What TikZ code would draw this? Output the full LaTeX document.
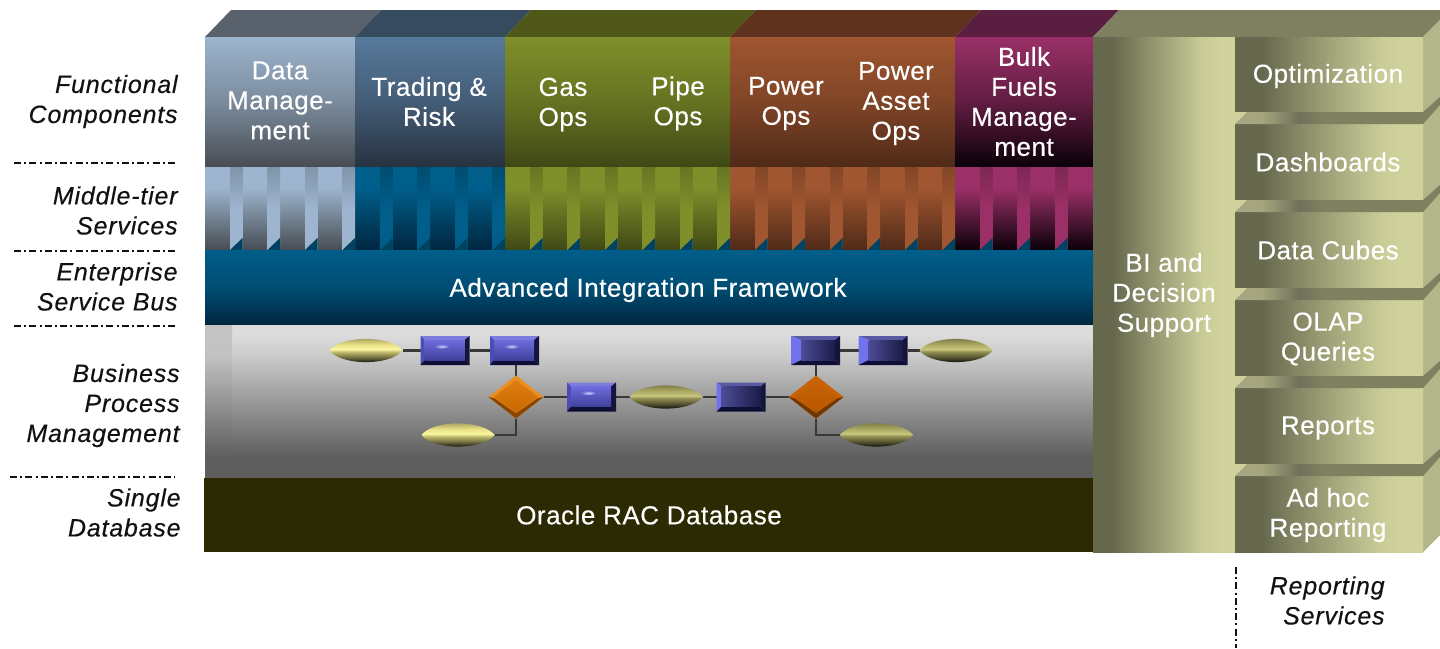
\documentclass[tikz,border=0pt]{standalone}
\usepackage{fontspec}
\setmainfont{Liberation Sans}
\newfontfamily\whitefam[LetterSpace=2,FakeBold=0.35]{Liberation Sans}
\newfontfamily\labelfam[LetterSpace=3.2,FakeBold=0.35]{Liberation Sans}
\usetikzlibrary{shapes.geometric,calc}
% ---- colours
\definecolor{labelink}{HTML}{111111}
\definecolor{oracle}{HTML}{2C2A02}
\definecolor{dataT}{HTML}{9DB5CE}\definecolor{dataB}{HTML}{474C52}\definecolor{dataF}{HTML}{59626C}
\definecolor{tradT}{HTML}{57799B}\definecolor{tradB}{HTML}{27323F}\definecolor{tradF}{HTML}{374B5E}
\definecolor{tierT}{HTML}{005E8A}\definecolor{tierB}{HTML}{00263F}
\definecolor{gasT}{HTML}{7F8F2A}\definecolor{gasB}{HTML}{3F4815}\definecolor{gasF}{HTML}{4F5818}
\definecolor{powT}{HTML}{A05630}\definecolor{powB}{HTML}{4F2A18}\definecolor{powF}{HTML}{5E321D}
\definecolor{bulkT}{HTML}{9A3067}\definecolor{bulkB}{HTML}{0A0008}\definecolor{bulkF}{HTML}{5A1F40}
\definecolor{biL}{HTML}{66684E}\definecolor{biR}{HTML}{CFD29B}\definecolor{biF}{HTML}{7F8060}\definecolor{biS}{HTML}{B3B689}
\definecolor{lensL}{HTML}{E6DF84}\definecolor{lensH}{HTML}{FBF6A2}
\definecolor{lensD}{HTML}{ABA862}\definecolor{lensDH}{HTML}{C9C67E}
\definecolor{bpmT}{HTML}{DCDCDC}\definecolor{bpmB}{HTML}{5E5E5E}
\definecolor{gapA}{HTML}{A5A67F}\definecolor{gapB}{HTML}{70715A}
\definecolor{blueTop}{HTML}{7C7CDC}\definecolor{blueLeft}{HTML}{4C4CB4}\definecolor{blueDark}{HTML}{14143C}\definecolor{blueBot}{HTML}{0F0F35}
\definecolor{blueA}{HTML}{6C6CDC}\definecolor{blueB}{HTML}{40409C}
\definecolor{rblueTop}{HTML}{5A5AA4}\definecolor{rblueLeft}{HTML}{7272EE}
\definecolor{rblueA}{HTML}{4C4C98}\definecolor{rblueB}{HTML}{1C1C48}
\definecolor{gateEdgeA}{HTML}{EA8E22}\definecolor{gateEdgeB}{HTML}{E07E10}\definecolor{gateEdgeC}{HTML}{C86800}\definecolor{gateDarkA}{HTML}{8A4500}
\definecolor{gateEdgeD}{HTML}{C86406}\definecolor{gateEdgeE}{HTML}{B85600}\definecolor{gateDarkB}{HTML}{6E3800}
% ---- shadings (TikZ maps a path's box onto the 25bp..75bp range)
\pgfdeclarehorizontalshading{bipanel}{100bp}{color(0bp)=(biL);color(32bp)=(biL);color(50bp)=(biR!55!biL);color(64bp)=(biR!95!biL);color(70bp)=(biR);color(100bp)=(biR)}
\pgfdeclarehorizontalshading{gapface}{100bp}{color(0bp)=(gapA);color(32bp)=(gapA);color(42bp)=(gapB);color(48bp)=(biF);color(100bp)=(biF)}
\pgfdeclareverticalshading{lensyellow}{100bp}{color(0bp)=(lensL!10!black);color(31bp)=(lensL!10!black);color(38bp)=(lensL!45!black);color(48bp)=(lensL!85!black);color(52bp)=(lensH);color(60bp)=(lensL);color(69bp)=(lensL!75!black);color(100bp)=(lensL!75!black)}
\pgfdeclareverticalshading{lensolive}{100bp}{color(0bp)=(lensD!10!black);color(31bp)=(lensD!10!black);color(38bp)=(lensD!45!black);color(48bp)=(lensD!85!black);color(52bp)=(lensDH);color(60bp)=(lensD);color(69bp)=(lensD!75!black);color(100bp)=(lensD!75!black)}
\pgfdeclareverticalshading{bpmback}{100bp}{color(0bp)=(bpmB);color(32bp)=(bpmB);color(65bp)=(bpmT!92!black);color(72bp)=(bpmT);color(100bp)=(bpmT)}
\pgfdeclareverticalshading{bpmband}{100bp}{color(0bp)=(bpmB);color(32bp)=(bpmB);color(65bp)=(bpmT!88!black);color(100bp)=(bpmT!91!black)}
\tikzset{
  lay/.style={inner sep=0pt,outer sep=0pt,minimum size=0pt},
  whitetext/.style={text=white,align=center,inner sep=0pt,yshift=0.5pt,font=\whitefam\fontsize{13}{15}\selectfont},
  sidelabel/.style={text=labelink,align=right,anchor=east,inner sep=0pt,yshift=0.25pt,font=\labelfam\fontsize{12.5}{15}\selectfont\itshape},
  sep/.style={draw=labelink,line width=1pt,dash pattern=on 3.5pt off 1.6pt on 1pt off 1.6pt},
  link/.style={draw=black!78,line width=1.2pt},
  procbox/.style={lay,minimum width=24.5pt,minimum height=14.5pt},
  lensnode/.style={lay,minimum width=36.5pt,minimum height=11.5pt},
  gate/.style={lay,diamond,minimum width=27.5pt,minimum height=21.5pt,shape aspect=1.28},
}
% column front + top face: x1,x2,top colour,bottom colour,face colour
\newcommand{\column}[5]{%
  \fill[#5] (#1,37) -- ($(#1,37)+(26,-27)$) -- ($(#2,37)+(26,-27)$) -- (#2,37) -- cycle;
  \shade[top color=#3,bottom color=#4,middle color=#3!60!#4] (#1,37) rectangle (#2,167);
}
% lower tier gradient and stripes
\newcommand{\tierbase}[4]{% x1,x2,top,bottom
  \fill[#3] (#1,167) rectangle (#2,188);
  \shade[top color=#3,bottom color=#4] (#1,188) rectangle (#2,250);
}
\newcommand{\stripe}[2]{% x, colour
  \shade[top color=#2!82!black,bottom color=#2,middle color=#2] (#1,167) rectangle ++(12.5,83);
  \fill[tierT!70!black] (#1,250) -- ++(12.5,-12) -- ++(0,12) -- cycle;
}
% right-hand stack box: top y, bottom y
\newcommand{\stackbox}[2]{%
  \shade[shading=bipanel] (1235,#1) rectangle (1423,#2);
}
\newcommand{\stackgap}[2]{% y1 (bottom of upper box) y2 (top of lower box)
  \fill[biR] (1235,#1) rectangle (1248,#2);
  \shade[shading=gapface] (1235,#2) -- (1247,#1) -- (1423,#1) -- (1423,#2) -- cycle;
  \fill[biF] (1423,#1) -- (1440,{#1-15}) -- (1440,{#2-19}) -- (1423,#2) -- cycle;
}
% lens on a named node
\newcommand{\lens}[2]{%
  \shade[shading=#2] (#1.west) .. controls ($(#1.west)!0.16!(#1.east)+(0,-15.5)$) and ($(#1.west)!0.84!(#1.east)+(0,-15.5)$) .. (#1.east)
     .. controls ($(#1.west)!0.84!(#1.east)+(0,15.5)$) and ($(#1.west)!0.16!(#1.east)+(0,15.5)$) .. (#1.west) -- cycle;
}
% bevelled block on a named node: node, left inset, top, left, right, bottom, centre
\newcommand{\bevel}[7]{%
  \coordinate (nw) at (#1.north west);\coordinate (ne) at (#1.north east);
  \coordinate (sw) at (#1.south west);\coordinate (se) at (#1.south east);
  \coordinate (inw) at ($(nw)+(#2,4)$);\coordinate (ine) at ($(ne)+(-5,4)$);
  \coordinate (isw) at ($(sw)+(#2,-5)$);\coordinate (ise) at ($(se)+(-5,-5)$);
  \fill[#3] (nw)--(ne)--(ine)--(inw)--cycle;
  \fill[#4] (nw)--(inw)--(isw)--(sw)--cycle;
  \fill[#5] (ne)--(se)--(ise)--(ine)--cycle;
  \fill[#6] (sw)--(isw)--(ise)--(se)--cycle;
  \shade[#7] (inw) rectangle (ise);
}
\newcommand{\shine}[1]{%
  \shade[inner color=white!85!blueA,outer color=blueA,opacity=.8] ($(#1.center)+(-3,-4)$) ellipse (7 and 2.2);
}
% diamond on a named node: node, edge colour, dark colour, centre colour A, centre colour B
\newcommand{\gateshape}[5]{%
  \fill[#2] (#1.north)--(#1.east)--(#1.south)--(#1.west)--cycle;
  \fill[#3] (#1.east)--(#1.south)--(#1.west)--($(#1.center)+(-22,1)$)--($(#1.center)+(0,16)$)--($(#1.center)+(22,1)$)--cycle;
  \shade[top color=#4,bottom color=#5] ($(#1.center)+(0,-17)$)--($(#1.center)+(22,0)$)--($(#1.center)+(0,15)$)--($(#1.center)+(-22,0)$)--cycle;
}
\begin{document}
\begin{tikzpicture}[x=0.5pt,y=-0.5pt]
\useasboundingbox (0,0) rectangle (1440,648);
\begin{scope}
\clip (0,0) rectangle (1440,648);
% ---- columns
\column{205}{355}{dataT}{dataB}{dataF}
\column{355}{505}{tradT}{tradB}{tradF}
\column{505}{730}{gasT}{gasB}{gasF}
\column{730}{955}{powT}{powB}{powF}
\column{955}{1093}{bulkT}{bulkB}{bulkF}
% ---- middle tier
\tierbase{205}{355}{dataT}{dataB}
\tierbase{355}{505}{tierT}{tierB}
\tierbase{505}{730}{gasT}{gasB}
\tierbase{730}{955}{powT}{powB}
\tierbase{955}{1093}{bulkT}{bulkB}
\foreach \x in {230,267.5,305,342.5}{\stripe{\x}{dataT}}
\foreach \x in {380,417.5,455,492.5}{\stripe{\x}{tierT}}
\foreach \x in {530,567.5,605,642.5,680,717.5}{\stripe{\x}{gasT}}
\foreach \x in {755,792.5,830,867.5,905,942.5}{\stripe{\x}{powT}}
\foreach \x in {980,1017.5,1055}{\stripe{\x}{bulkT}}
% ---- horizontal layers
\shade[top color=tierT,bottom color=tierB,middle color=tierT!70!tierB] (205,250) rectangle (1093,325);
\shade[shading=bpmback] (205,325) rectangle (1093,478);
\shade[shading=bpmband] (205,325) rectangle (232,478);
\fill[oracle] (204,478) rectangle (1093,552);
% ---- BI panel and stack
\fill[biF] (1093,37) -- (1119,10) -- (1440,10) -- (1440,20) -- (1423,37) -- cycle;
\fill[biS] (1423,37) -- (1440,20) -- (1440,535) -- (1423,552) -- cycle;
\shade[shading=bipanel] (1093,37) rectangle (1235,552);
\stackbox{37}{112}\stackbox{124}{200}\stackbox{212}{288}\stackbox{300}{376}\stackbox{388}{464}\stackbox{476}{552}
\stackgap{112}{124}\stackgap{200}{212}\stackgap{288}{300}\stackgap{376}{388}\stackgap{464}{476}
% ---- process flow nodes
\node[lensnode] (e1) at (366,350.5) {};
\node[lensnode] (e2) at (666,397) {};
\node[lensnode] (e3) at (458,435) {};
\node[lensnode] (e4) at (956,350.5) {};
\node[lensnode] (e5) at (876.5,435) {};
\node[procbox] (r1) at (445,350.5) {};
\node[procbox] (r2) at (514.5,350.5) {};
\node[procbox] (r3) at (591.5,397) {};
\node[procbox] (r4) at (741,397) {};
\node[procbox] (r5) at (815.5,350.5) {};
\node[procbox] (r6) at (883,350.5) {};
\node[gate] (d1) at (516,397) {};
\node[gate] (d2) at (816,397) {};
% ---- connectors
\draw[link] (e1) -- (r1);
\draw[link] (r1) -- (r2);
\draw[link] (r2.south -| d1.north) -- (d1.north);
\draw[link] (d1) -- (r3);
\draw[link] (r3) -- (e2);
\draw[link] (e2) -- (r4);
\draw[link] (r4) -- (d2);
\draw[link] (d2.north) -- (r5.south -| d2.north);
\draw[link] (r5) -- (r6);
\draw[link] (r6) -- (e4);
\draw[link] (d1.south) |- (e3.east);
\draw[link] (d2.south) |- (e5.west);
% ---- process flow shapes
\lens{e1}{lensyellow}\lens{e3}{lensyellow}
\lens{e2}{lensolive}\lens{e4}{lensolive}\lens{e5}{lensolive}
\foreach \n in {r1,r2,r3}{
  \bevel{\n}{4}{fill=blueTop}{fill=blueLeft}{fill=blueDark}{fill=blueBot}{top color=blueA,bottom color=blueB}
  \shine{\n}
}
\foreach \n/\i in {r4/5,r5/10,r6/10}{
  \bevel{\n}{\i}{fill=rblueTop}{fill=rblueLeft}{fill=blueDark}{fill=blueBot}{left color=rblueA,right color=rblueB}
}
\gateshape{d1}{gateEdgeA}{gateDarkA}{gateEdgeB}{gateEdgeC}
\gateshape{d2}{gateEdgeD}{gateDarkB}{gateEdgeD}{gateEdgeE}
\end{scope}
% ---- white texts
\node[whitetext] (tData) at (280,101.5) {Data\\Manage-\\ment};
\node[whitetext] (tTrade) at (429,102.5) {Trading \&\\Risk};
\node[whitetext] (tGas) at (563,105.5) {Gas\\Ops};
\node[whitetext] (tPipe) at (678,104.5) {Pipe\\Ops};
\node[whitetext] (tPow) at (786,104.5) {Power\\Ops};
\node[whitetext] (tAsset) at (896,104.5) {Power\\Asset\\Ops};
\node[whitetext] (tBulk) at (1024,102.5) {Bulk\\Fuels\\Manage-\\ment};
\node[whitetext] (tAIF) at (648,291) {Advanced Integration Framework};
\node[whitetext] (tRAC) at (649,516) {Oracle RAC Database};
\node[whitetext] (tBI) at (1164,296) {BI and\\Decision\\Support};
\node[whitetext] (tOpt) at (1328,77) {Optimization};
\node[whitetext] (tDash) at (1328,163) {Dashboards};
\node[whitetext] (tCube) at (1328,251) {Data Cubes};
\node[whitetext] (tOlap) at (1328,340) {OLAP\\Queries};
\node[whitetext] (tRep) at (1328,429) {Reports};
\node[whitetext] (tAdhoc) at (1328,516) {Ad hoc\\Reporting};
% ---- side labels
\node[sidelabel] (lFunc) at (178,102) {Functional\\Components};
\node[sidelabel] (lMid) at (178,211) {Middle-tier\\Services};
\node[sidelabel] (lEsb) at (178,287) {Enterprise\\Service Bus};
\node[sidelabel] (lBpm) at (180,406) {Business\\Process\\Management};
\node[sidelabel] (lDb) at (181,513) {Single\\Database};
\node[sidelabel] (lRep) at (1385,601) {Reporting\\Services};
% ---- separators
\coordinate (a1) at (14,163);\coordinate (a2) at (178,163);
\coordinate (b1) at (14,251);\coordinate (b2) at (178,251);
\coordinate (c1) at (14,326);\coordinate (c2) at (178,326);
\coordinate (f1) at (10,477);\coordinate (f2) at (175,477);
\coordinate (g1) at (1236,567);\coordinate (g2) at (1236,648);
\draw[sep] (a1) -- (a2);
\draw[sep] (b1) -- (b2);
\draw[sep] (c1) -- (c2);
\draw[sep] (f1) -- (f2);
\draw[sep] (g1) -- (g2);
\end{tikzpicture}
\end{document}
